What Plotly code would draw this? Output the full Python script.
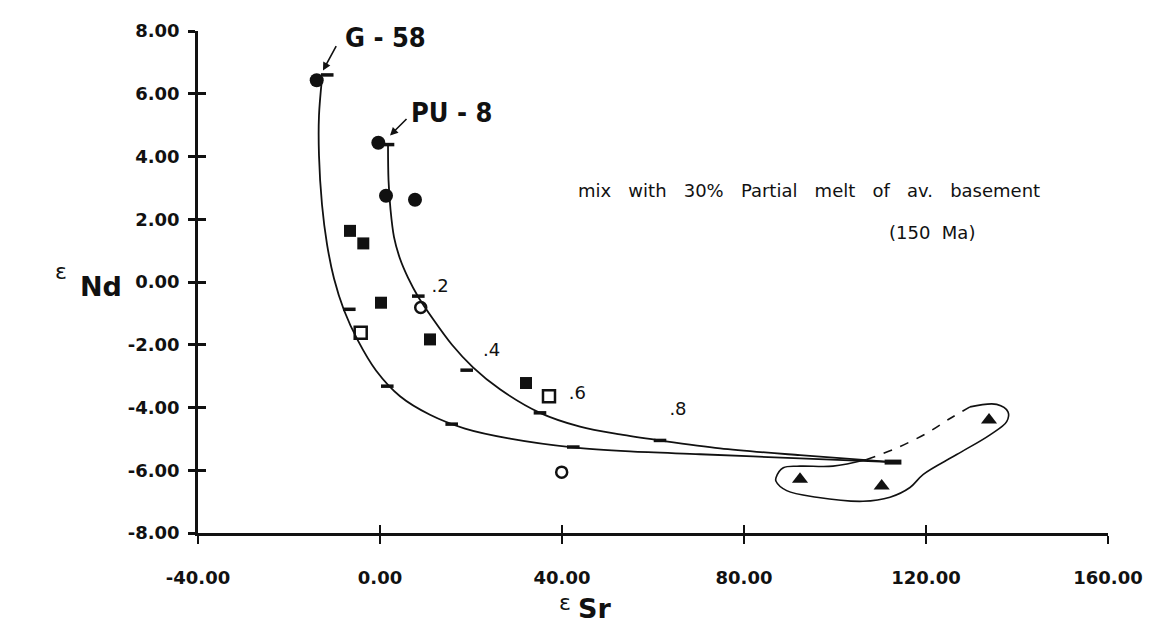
import plotly.graph_objects as go

# ---------------- data ----------------
# mixing curve from G-58
curve1_x = [-12.75, -13.41, -13.41, -12.75, -11.65, -10.11, -7.91, -4.84, -0.88, 4.40, 10.99, 18.68, 28.57, 42.42, 54.95, 70.33, 92.31, 112.75]
curve1_y = [6.49, 5.30, 4.04, 2.47, 1.21, 0.11, -0.90, -1.87, -2.82, -3.64, -4.23, -4.67, -4.99, -5.27, -5.40, -5.49, -5.62, -5.74]
curve1_tick_x = [-11.6, -6.75, 1.60, 15.76, 42.48]
curve1_tick_y = [6.60, -0.87, -3.32, -4.53, -5.26]

# mixing curve from PU-8
curve2_x = [1.76, 1.87, 2.31, 3.08, 4.40, 6.15, 8.35, 11.65, 15.82, 20.44, 26.37, 35.16, 43.96, 52.75, 61.54, 74.73, 92.31, 112.75]
curve2_y = [4.38, 3.25, 2.31, 1.43, 0.74, 0.14, -0.46, -1.18, -2.00, -2.72, -3.42, -4.17, -4.61, -4.86, -5.05, -5.30, -5.52, -5.74]
curve2_tick_x = [1.76, 8.42, 19.05, 35.16, 61.54]
curve2_tick_y = [4.38, -0.45, -2.81, -4.17, -5.05]
end_x = [112.75]
end_y = [-5.74]

fraction_labels = [".2", ".4", ".6", ".8"]
fraction_x = [13.2, 24.55, 43.36, 65.49]
fraction_y = [-0.17, -2.22, -3.60, -4.10]

filled_circle_x = [-13.91, -0.37, 1.32, 7.69]
filled_circle_y = [6.43, 4.44, 2.75, 2.62]
filled_square_x = [-6.59, -3.67, 0.22, 10.99, 32.09]
filled_square_y = [1.63, 1.23, -0.66, -1.83, -3.22]
open_square_x = [-4.24, 37.14]
open_square_y = [-1.62, -3.64]
open_circle_x = [8.95, 39.93]
open_circle_y = [-0.81, -6.06]
triangle_x = [92.31, 110.26, 133.85]
triangle_y = [-6.29, -6.50, -4.40]

# hand-drawn enclosure around the triangles
loop_solid_x = [129.67, 135.54, 138.02, 137.73, 134.07, 126.75, 119.41, 116.48, 112.09, 106.15, 95.98, 89.38, 87.03, 87.03, 88.64, 92.31, 99.56, 106.97]
loop_solid_y = [-3.98, -3.90, -4.14, -4.45, -4.87, -5.50, -6.13, -6.55, -6.86, -6.99, -6.86, -6.65, -6.35, -6.24, -5.92, -5.87, -5.87, -5.66]
loop_dash_x = [106.97, 113.56, 120.15, 125.27, 129.67]
loop_dash_y = [-5.66, -5.29, -4.82, -4.35, -3.98]

x_tickvals = [-40, 0, 40, 80, 120, 160]
x_ticktext = ["-40.00", "0.00", "40.00", "80.00", "120.00", "160.00"]
y_tickvals = [-8, -6, -4, -2, 0, 2, 4, 6, 8]
y_ticktext = ["-8.00", "-6.00", "-4.00", "-2.00", "0.00", "2.00", "4.00", "6.00", "8.00"]

sample_labels = ["G - 58", "PU - 8"]
sample_label_x = [1.1, 15.8]
sample_label_y = [7.78, 5.39]
arrow_tip_x = [-12.53, 2.2]
arrow_tip_y = [6.74, 4.67]

note_line1 = "mix\u00a0\u00a0 with\u00a0\u00a0 30%\u00a0\u00a0 Partial\u00a0\u00a0 melt\u00a0\u00a0 of\u00a0\u00a0 av.\u00a0\u00a0 basement"
note_line2 = "(150\u00a0 Ma)"

# ---------------- figure ----------------
BLACK = "#111111"
fig = go.Figure()

fig.add_trace(go.Scatter(x=curve1_x, y=curve1_y, mode="lines",
                         line=dict(color=BLACK, width=1.8, shape="spline", smoothing=0.9),
                         showlegend=False, hoverinfo="skip"))
fig.add_trace(go.Scatter(x=curve2_x, y=curve2_y, mode="lines",
                         line=dict(color=BLACK, width=1.8, shape="spline", smoothing=0.9),
                         showlegend=False, hoverinfo="skip"))
fig.add_trace(go.Scatter(x=curve1_tick_x + curve2_tick_x, y=curve1_tick_y + curve2_tick_y, mode="markers",
                         marker=dict(symbol="line-ew", size=9, line=dict(color=BLACK, width=3.5)),
                         showlegend=False))
fig.add_trace(go.Scatter(x=end_x, y=end_y, mode="markers",
                         marker=dict(symbol="line-ew", size=12, line=dict(color=BLACK, width=5)),
                         showlegend=False))

fig.add_trace(go.Scatter(x=loop_solid_x, y=loop_solid_y, mode="lines",
                         line=dict(color=BLACK, width=1.6, shape="spline", smoothing=1.0),
                         showlegend=False, hoverinfo="skip"))
fig.add_trace(go.Scatter(x=loop_dash_x, y=loop_dash_y, mode="lines",
                         line=dict(color=BLACK, width=1.6, shape="spline", dash="dash"),
                         showlegend=False, hoverinfo="skip"))

fig.add_trace(go.Scatter(x=filled_circle_x, y=filled_circle_y, mode="markers",
                         marker=dict(symbol="circle", size=14, color=BLACK), showlegend=False))
fig.add_trace(go.Scatter(x=filled_square_x, y=filled_square_y, mode="markers",
                         marker=dict(symbol="square", size=12, color=BLACK), showlegend=False))
fig.add_trace(go.Scatter(x=open_square_x, y=open_square_y, mode="markers",
                         marker=dict(symbol="square-open", size=12, color=BLACK, line=dict(width=2.5)),
                         showlegend=False))
fig.add_trace(go.Scatter(x=open_circle_x, y=open_circle_y, mode="markers",
                         marker=dict(symbol="circle-open", size=11, color=BLACK, line=dict(width=2.5)),
                         showlegend=False))
fig.add_trace(go.Scatter(x=triangle_x, y=triangle_y, mode="markers",
                         marker=dict(symbol="triangle-up", size=14, color=BLACK), showlegend=False))

fig.add_trace(go.Scatter(x=fraction_x, y=fraction_y, mode="text", text=fraction_labels,
                         textfont=dict(family="DejaVu Sans, Arial, sans-serif", size=18, color=BLACK),
                         showlegend=False, hoverinfo="skip"))

# invisible trace on overlay axes (for the inner half of each tick)
fig.add_trace(go.Scatter(x=[x_tickvals[0]], y=[y_tickvals[0]], xaxis="x2", yaxis="y2",
                         mode="markers", marker=dict(opacity=0), showlegend=False, hoverinfo="skip"))

tick_font = dict(family="DejaVu Sans, Arial, sans-serif", size=18, color=BLACK, weight="bold")

# page body has an 8px default margin, so the figure is 8px smaller each way
fig.update_layout(
    width=1150, height=625,
    margin=dict(l=190, r=50, t=16, b=100),
    paper_bgcolor="white", plot_bgcolor="white",
    xaxis=dict(range=[-40, 160], tickvals=x_tickvals, ticktext=x_ticktext,
               showgrid=False, zeroline=False, showline=True, linecolor=BLACK, linewidth=2.5,
               ticks="outside", ticklen=8, tickwidth=2, tickcolor=BLACK,
               tickfont=tick_font, ticklabelstandoff=19),
    yaxis=dict(range=[-8, 8], tickvals=y_tickvals, ticktext=y_ticktext,
               showgrid=False, zeroline=False, showline=True, linecolor=BLACK, linewidth=2.5,
               ticks="outside", ticklen=7, tickwidth=2.5, tickcolor=BLACK,
               tickfont=tick_font, ticklabelstandoff=5),
    xaxis2=dict(range=[-40, 160], tickvals=x_tickvals, overlaying="x", anchor="y2", side="bottom",
                showgrid=False, zeroline=False, showline=False, showticklabels=False,
                ticks="inside", ticklen=8, tickwidth=2, tickcolor=BLACK),
    yaxis2=dict(range=[-8, 8], tickvals=y_tickvals, overlaying="y", anchor="x2", side="left",
                showgrid=False, zeroline=False, showline=False, showticklabels=False,
                ticks="inside", ticklen=8, tickwidth=2.5, tickcolor=BLACK),
)

label_font = dict(family="Liberation Sans Narrow, DejaVu Sans Condensed, Arial Narrow, sans-serif",
                  size=27, color=BLACK, weight="bold")
for txt, lx, ly in zip(sample_labels, sample_label_x, sample_label_y):
    fig.add_annotation(x=lx, y=ly, text=txt, showarrow=False, font=label_font)
for tx, ty, axp, ayp in zip(arrow_tip_x, arrow_tip_y, [14, 18], [-26, -18]):
    fig.add_annotation(x=tx, y=ty, text="", showarrow=True, ax=axp, ay=ayp,
                       arrowhead=2, arrowsize=1, arrowwidth=1.6, arrowcolor=BLACK)

note_font = dict(family="DejaVu Sans, Arial, sans-serif", size=18, color=BLACK)
fig.add_annotation(x=94.3, y=2.92, text=note_line1, showarrow=False, font=note_font)
fig.add_annotation(x=121.3, y=1.58, text=note_line2, showarrow=False, font=note_font)

# axis titles (epsilon + subscript-like element name), placed relative to the plot area
eps_font = dict(family="DejaVu Sans, Arial, sans-serif", size=22, color=BLACK)
sub_font = dict(family="DejaVu Sans, Arial, sans-serif", size=27, color=BLACK, weight="bold")
title_bits = [("ε", -0.1505, 0.5206, eps_font), ("Nd", -0.1066, 0.4912, sub_font),
              ("ε", 0.4033, -0.1375, eps_font), ("Sr", 0.4352, -0.1513, sub_font)]
for txt, px, py, fnt in title_bits:
    fig.add_annotation(xref="paper", yref="paper", x=px, y=py, text=txt, showarrow=False,
                       xanchor="center", yanchor="middle", font=fnt)

fig.write_html("out.html")
